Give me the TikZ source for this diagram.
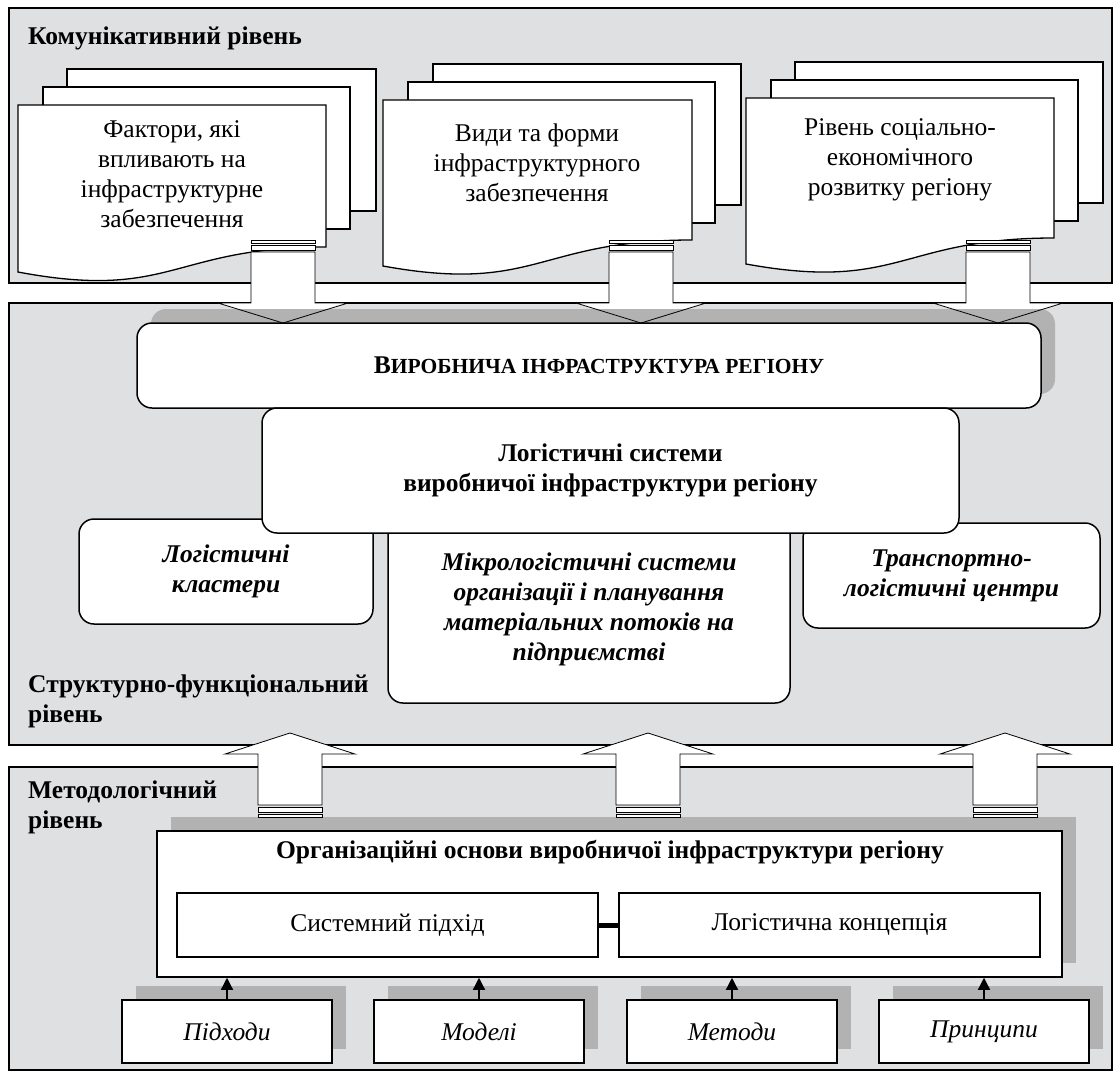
\documentclass[tikz,border=0pt]{standalone}
\usepackage{fontspec}
\setmainfont{Liberation Serif}
\usetikzlibrary{shadows,arrows.meta}

\definecolor{panelgray}{RGB}{223,224,226}
\definecolor{shadowgray}{RGB}{178,178,178}

\begin{document}
\begin{tikzpicture}[x=1pt, y=-1pt,
  every node/.style={font=\fontsize{25.5}{30}\selectfont, inner sep=0pt},
  panel/.style={draw, line width=1.3pt, fill=panelgray, minimum width=1103pt},
  leveltitle/.style={anchor=west, align=left, font=\fontsize{25.5}{30}\selectfont\bfseries},
  sheet/.style={draw, line width=1.3pt, fill=white},
  roundbox/.style={draw, line width=1.5pt, fill=white, rounded corners=15pt, align=center},
  plainbox/.style={draw, line width=1.5pt, fill=white, align=center},
  boxshadow/.style={drop shadow={shadow xshift=14pt, shadow yshift=14pt, fill=shadowgray, opacity=1}},
  smallbox/.style={plainbox, boxshadow, minimum width=210pt, minimum height=63pt, font=\fontsize{25.5}{30}\selectfont\itshape},
  blockarrow/.style={draw, line width=0.8pt},
  smallarrow/.style={-{Triangle[length=12pt,width=12pt]}, line width=1.3pt}
]

\useasboundingbox (0,0) rectangle (1116,1074);

% Levels
\node[panel, minimum height=275pt] (comm) at (560.5,145.5) {};
\node[panel, minimum height=442pt] (struct) at (560.5,524) {};
\node[panel, minimum height=303pt] (method) at (560.5,918.5) {};

\node[leveltitle] (commtitle) at (28,38) {Комунікативний рівень};
\node[leveltitle] (structtitle) at (28,701) {Структурно-функціональний\\рівень};
\node[leveltitle] (methodtitle) at (28,807) {Методологічний\\рівень};

% Document stack: factors
\draw[sheet] (67,69) rectangle (376,211);
\draw[sheet] (43,87) rectangle (350,229);
\draw[sheet] (18,105) -- (326,105) -- (326,247) .. controls (172,247) and (172,301) .. (18,272) -- cycle;
\node[align=center] (factors) at (172,174) {Фактори, які\\впливають на\\інфраструктурне\\забезпечення};

% Document stack: forms
\draw[sheet] (433,64) rectangle (741,205);
\draw[sheet] (408,82) rectangle (715,223);
\draw[sheet] (383,100) -- (692,100) -- (692,240) .. controls (537,240) and (537,294) .. (383,266) -- cycle;
\node[align=center] (forms) at (537,163) {Види та форми\\інфраструктурного\\забезпечення};

% Document stack: level
\draw[sheet] (795,62) rectangle (1103,203);
\draw[sheet] (771,80) rectangle (1078,221);
\draw[sheet] (746,98) -- (1054,98) -- (1054,238) .. controls (900,238) and (900,292) .. (746,264) -- cycle;
\node[align=center] (level) at (900,160) {Рівень соціально-\\економічного\\розвитку регіону};

% Block arrows down (fill first)
\coordinate (tailA) at (283,252);
\coordinate (tailB) at (641,252);
\coordinate (tailC) at (998,252);
\foreach \t in {tailA,tailB,tailC}
  \fill[white] (\t) ++(-32,0) -- ++(0,51) -- ++(-33,0) -- ++(65,20) -- ++(65,-20) -- ++(-33,0) -- ++(0,-51) -- cycle;

% Production infrastructure
\node[roundbox, boxshadow, minimum width=904pt, minimum height=85pt, font=\fontsize{25.5}{30}\selectfont\bfseries] (prod) at (589,365.5) {\hspace*{20pt}В{\fontsize{21.5}{25}\selectfont ИРОБНИЧА ІНФРАСТРУКТУРА РЕГІОНУ}};

% Block arrows down (outline)
\foreach \t in {tailA,tailB,tailC}{
  \draw[blockarrow] (\t) ++(-32,0) -- ++(0,51) -- ++(-33,0) -- ++(65,20) -- ++(65,-20) -- ++(-33,0) -- ++(0,-51) -- cycle;
  \draw[blockarrow, fill=white] (\t) ++(-32,-12) rectangle ++(64,3) (\t) ++(-32,-7) rectangle ++(64,5);
}

% Logistic subsystems
\node[roundbox, minimum width=402pt, minimum height=188pt, font=\fontsize{25.5}{30}\selectfont\bfseries\itshape] (micro) at (589,609) {Мікрологістичні системи\\організації і планування\\матеріальних потоків на\\підприємстві};
\node[roundbox, minimum width=294pt, minimum height=105pt, font=\fontsize{25.5}{30}\selectfont\bfseries\itshape] (clusters) at (226,571.5) {Логістичні\\кластери};
\node[roundbox, minimum width=297pt, minimum height=105pt, font=\fontsize{25.5}{30}\selectfont\bfseries\itshape] (transport) at (951.5,575.5) {Транспортно-\\логістичні центри};
\node[roundbox, minimum width=697pt, minimum height=125pt, font=\fontsize{25.5}{30}\selectfont\bfseries] (logsys) at (610.5,470.5) {Логістичні системи\\виробничої інфраструктури регіону};

% Organisational basis
\node[plainbox, boxshadow, minimum width=905pt, minimum height=146pt] (org) at (609.5,904) {};
\node[font=\fontsize{25.5}{30}\selectfont\bfseries] (orgtitle) at (610,852) {Організаційні основи виробничої інфраструктури регіону};
\node[plainbox, minimum width=421pt, minimum height=64pt] (system) at (387.5,925) {Системний підхід};
\node[plainbox, minimum width=421pt, minimum height=64pt] (concept) at (829.5,925) {Логістична концепція};
\draw[line width=5pt] (system.east) -- (concept.west);

% Tools
\node[smallbox] (approaches) at (227,1031.5) {Підходи};
\node[smallbox] (models) at (479,1031.5) {Моделі};
\node[smallbox] (methods) at (732,1031.5) {Методи};
\node[smallbox] (principles) at (984,1031.5) {Принципи};

\draw[smallarrow] (approaches.north) -- (approaches.north |- org.south);
\draw[smallarrow] (models.north) -- (models.north |- org.south);
\draw[smallarrow] (methods.north) -- (methods.north |- org.south);
\draw[smallarrow] (principles.north) -- (principles.north |- org.south);

% Block arrows up
\coordinate (baseA) at (290,805);
\coordinate (baseB) at (648,805);
\coordinate (baseC) at (1005,805);
\foreach \t in {baseA,baseB,baseC}{
  \draw[blockarrow, fill=white] (\t) ++(-32,0) -- ++(0,-51) -- ++(-33,0) -- ++(65,-21) -- ++(65,21) -- ++(-33,0) -- ++(0,51) -- cycle;
  \draw[blockarrow, fill=white] (\t) ++(-32,2) rectangle ++(64,5) (\t) ++(-32,9) rectangle ++(64,3);
}

\end{tikzpicture}
\end{document}
